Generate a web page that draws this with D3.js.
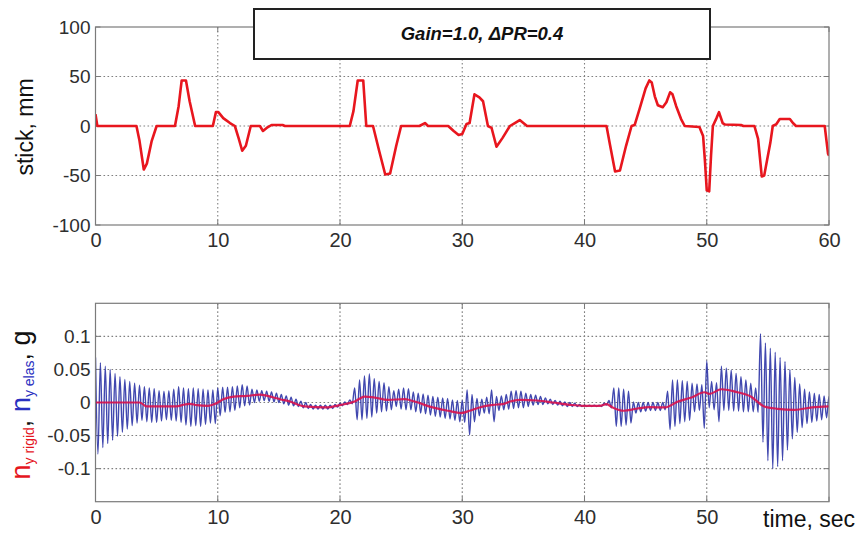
<!DOCTYPE html>
<html><head><meta charset="utf-8">
<script src="https://cdn.jsdelivr.net/npm/d3@7"></script>
<style>
html,body{margin:0;padding:0;background:#fff;}
svg{display:block;font-family:"Liberation Sans",Arial,Helvetica,sans-serif;}
</style></head>
<body>
<svg id="chart" width="861" height="534"></svg>
<script>
// ---------------- DATA ----------------
const titleText = "Gain=1.0, \u0394PR=0.4";
const xTicks = [0, 10, 20, 30, 40, 50, 60];
const xTickLabelsBottom = [0, 10, 20, 30, 40, 50];
const stickTicks = [-100, -50, 0, 50, 100];
const accelTicks = [-0.1, -0.05, 0, 0.05, 0.1];

// stick deflection, mm (time, value)
const stickTime = [0,0.15,3.35,3.6,3.95,4.2,4.6,5.0,6.5,6.8,7.05,7.4,7.7,8.15,9.6,9.85,10.05,10.45,11.0,11.4,11.7,12.0,12.3,12.7,13.45,13.7,14.0,14.4,15.3,15.5,20.8,21.1,21.45,21.9,22.15,22.7,23.2,23.7,24.1,24.6,25.0,26.5,26.95,27.2,28.85,29.3,29.7,30.0,30.35,30.6,31.0,31.4,31.7,32.1,32.4,32.8,33.3,33.9,34.3,34.7,35.1,35.3,41.8,42.1,42.5,42.9,43.4,43.85,44.1,44.5,45.0,45.3,45.5,45.75,46.0,46.4,46.7,47.0,47.2,47.5,47.9,48.2,49.4,49.7,49.85,50.0,50.2,50.35,50.5,50.8,51.0,51.3,51.5,52.8,53.0,53.9,54.2,54.5,54.7,55.2,55.4,55.7,55.97,56.8,57.05,57.3,59.65,59.92,60];
const stickVal  = [12,0,0,-15,-44,-38,-15,0,0,20,46,46,25,0,0,14,14,8,3,0,-12,-25,-20,0,0,-5,-2,1,1,0,0,15,46,46,0,0,-25,-49,-48,-20,0,0,3,0,0,-5,-9,-8,2,3,32,29,25,0,-2,-21,-12,0,3,6,2,0,0,-20,-46,-45,-20,0,1,17,38,46,44,30,21,19,24,34,32,20,7,0,-1,-10,-35,-65,-66,-30,0,8,14,3,1.5,1,0,0,-13,-51,-50,-17,0,2,7,7,3,0,0,-28,-30];

// rigid-body lateral load factor, milli-g
const rigidTime = [0,3.6,4.2,6.6,7.3,7.7,8.3,9.2,9.8,10.45,11.3,12.4,13.45,14.5,15.1,15.8,17.1,18.8,20.1,21.2,22.0,22.85,23.9,25.3,26.1,27.5,28.85,29.9,30.6,31.4,32.5,33.3,33.9,34.7,36.1,37.4,38.8,39.9,41.25,41.8,42.3,43.2,44.25,45.3,46.6,47.65,48.75,49.8,50.2,51.2,52.3,53.6,54.7,55.8,57.2,58.6,60];
const rigidVal  = [0,0,-6,-6,-3,-2,-4,-5,-2,5,9,10,12,8,5,2,-6,-7.5,-3.5,1.5,9,7.5,4,5,1.5,-7,-12.5,-16,-12.5,-7.5,-3.5,-2.5,1.5,4,3,0,-3.5,-5,-5,-2.5,-7.5,-12.5,-9.5,-7,-7.5,1.5,7.5,15.5,13,20,16.5,9,-6,-9.5,-11,-7.5,-6];

// elastic lateral load factor: oscillation peaks every 0.4 s, milli-g
const elasStep = 0.4;
const elasHi = [68,60,55,50,44,39,35,32,29,26,24,22,21,18,17,18,20,24,22,21,22,21,20,19,19,22,23,23,24,25,27,25,20,19,18,17,16,14,12,10,8,5,2,0,-3,-4,-4,-4,-4,-3,-1,1,4,22,34,40,43,36,32,30,24,18,20,22,21,16,14,13,11,9,8,7,6,4,3,3,19,12,6,5,8,19,9,10,12,17,18,17,14,12,11,9,7,5,3,2,1,0,-1,-3,-4,-4,-4,-4,-1,3,22,22,20,17,1,0,0,0,0,0,0,17,34,34,33,32,29,28,27,63,32,30,55,52,49,44,39,34,29,22,104,90,82,76,68,62,50,38,28,20,16,14,12,10,9];
const elasLo = [-78,-68,-62,-57,-51,-45,-40,-35,-31,-27,-29,-30,-30,-28,-26,-27,-28,-30,-34,-36,-35,-36,-33,-31,-32,-20,-15,-14,-12,-8,-5,-4,0,2,3,2,1,0,-2,-4,-5,-6,-8,-9,-10,-10,-10,-10,-9,-7,-5,-3,-2,-26,-26,-24,-22,-16,-14,-13,-11,-6,-10,-11,-11,-14,-16,-17,-19,-21,-22,-24,-25,-27,-29,-30,-49,-29,-20,-16,-17,-29,-12,-11,-10,-9,-8,-8,-6,-4,-3,-3,-2,-3,-4,-5,-6,-6,-6,-6,-6,-6,-6,-6,-4,-8,-36,-36,-34,-31,-16,-14,-13,-12,-12,-12,-11,-41,-36,-32,-29,-27,-14,-12,-39,-8,-11,-29,-12,-12,-13,-13,-14,-14,-14,-15,-60,-88,-100,-97,-88,-72,-55,-45,-38,-32,-30,-28,-26,-23,-21];

// ---------------- LAYOUT ----------------
const svg = d3.select("#chart");
const L = 95.5, R = 829;
const top1 = 27, bot1 = 225;
const top2 = 303.3, bot2 = 501.7;
const x1 = d3.scaleLinear().domain([0, 60]).range([L, R]);
const y1 = d3.scaleLinear().domain([-100, 100]).range([bot1, top1]);
const y2 = d3.scaleLinear().domain([-0.15, 0.15]).range([bot2, top2]);

const gridColor = "#808080", frameColor = "#7b7b7b", tickTxt = "#2e2e2e";
const tickFont = 19;

function panel(yScale, yTicks, yFmt, top, bot, xLabelTicks) {
  const g = svg.append("g");
  // grid
  g.append("g").selectAll("line").data(xTicks.slice(1, -1)).join("line")
    .attr("x1", d => x1(d)).attr("x2", d => x1(d)).attr("y1", top).attr("y2", bot)
    .attr("stroke", gridColor).attr("stroke-width", 1.1).attr("stroke-dasharray", "1.6,2.4");
  g.append("g").selectAll("line").data(yTicks.filter(d => yScale(d) > top + 1 && yScale(d) < bot - 1)).join("line")
    .attr("x1", L).attr("x2", R).attr("y1", d => yScale(d)).attr("y2", d => yScale(d))
    .attr("stroke", gridColor).attr("stroke-width", 1.1).attr("stroke-dasharray", "1.6,2.4");
  // axes labels
  const ax = d3.axisLeft(yScale).tickValues(yTicks).tickSize(0).tickPadding(5).tickFormat(yFmt);
  const ga = g.append("g").attr("transform", `translate(${L},0)`).call(ax);
  ga.select(".domain").remove();
  ga.selectAll("text").attr("font-size", tickFont).attr("fill", tickTxt).attr("font-family", "Liberation Sans, Arial, sans-serif");
  const bx = d3.axisBottom(x1).tickValues(xLabelTicks).tickSize(0).tickPadding(8).tickFormat(d3.format("d"));
  const gb = g.append("g").attr("transform", `translate(0,${bot})`).call(bx);
  gb.select(".domain").remove();
  gb.selectAll("text").attr("font-size", tickFont + 1).attr("fill", tickTxt).attr("font-family", "Liberation Sans, Arial, sans-serif");
  // small inward ticks
  const tk = g.append("g").attr("stroke", frameColor).attr("stroke-width", 1);
  xTicks.forEach(d => {
    tk.append("line").attr("x1", x1(d)).attr("x2", x1(d)).attr("y1", bot).attr("y2", bot - 5);
    tk.append("line").attr("x1", x1(d)).attr("x2", x1(d)).attr("y1", top).attr("y2", top + 5);
  });
  yTicks.forEach(d => {
    tk.append("line").attr("x1", L).attr("x2", L + 5).attr("y1", yScale(d)).attr("y2", yScale(d));
    tk.append("line").attr("x1", R).attr("x2", R - 5).attr("y1", yScale(d)).attr("y2", yScale(d));
  });
  return g;
}

const fmtStick = d => String(d);
const fmtAcc = d => (d === 0 ? "0" : String(d));

panel(y1, stickTicks, fmtStick, top1, bot1, xTicks);
panel(y2, accelTicks, fmtAcc, top2, bot2, xTickLabelsBottom);

// clip paths
const defs = svg.append("defs");
defs.append("clipPath").attr("id", "c1").append("rect").attr("x", L).attr("y", top1).attr("width", R - L).attr("height", bot1 - top1);
defs.append("clipPath").attr("id", "c2").append("rect").attr("x", L).attr("y", top2).attr("width", R - L).attr("height", bot2 - top2);

// stick line
const stickData = stickTime.map((t, i) => [t, stickVal[i]]);
svg.append("path").datum(stickData).attr("clip-path", "url(#c1)")
  .attr("fill", "none").attr("stroke", "#e8161e").attr("stroke-width", 2.6).attr("stroke-linejoin", "round")
  .attr("d", d3.line().x(d => x1(d[0])).y(d => y1(d[1])));

// elastic oscillation
const elasData = [];
elasHi.forEach((h, k) => {
  elasData.push([k * elasStep, h / 1000]);
  elasData.push([k * elasStep + elasStep / 2, elasLo[k] / 1000]);
});
svg.append("path").datum(elasData).attr("clip-path", "url(#c2)")
  .attr("fill", "none").attr("stroke", "#2c34a6").attr("stroke-width", 1.4).attr("stroke-opacity", 0.9)
  .attr("d", d3.line().curve(d3.curveMonotoneX).x(d => x1(d[0])).y(d => y2(d[1])));

// rigid line
const rigidData = rigidTime.map((t, i) => [t, rigidVal[i] / 1000]);
svg.append("path").datum(rigidData).attr("clip-path", "url(#c2)")
  .attr("fill", "none").attr("stroke", "#d8124e").attr("stroke-width", 2.2).attr("stroke-opacity", 0.9)
  .attr("d", d3.line().curve(d3.curveMonotoneX).x(d => x1(d[0])).y(d => y2(d[1])));

// frames
[[top1, bot1], [top2, bot2]].forEach(([t, b]) => {
  svg.append("rect").attr("x", L).attr("y", t).attr("width", R - L).attr("height", b - t)
    .attr("fill", "none").attr("stroke", frameColor).attr("stroke-width", 1.2);
});

// title box
svg.append("rect").attr("x", 254).attr("y", 9).attr("width", 456).attr("height", 50)
  .attr("fill", "#fff").attr("stroke", "#222").attr("stroke-width", 2);
svg.append("text").attr("x", 482).attr("y", 40).attr("text-anchor", "middle")
  .attr("font-size", 18.5).attr("font-weight", "bold").attr("font-style", "italic").attr("fill", "#111")
  .text(titleText);

// y label top
svg.append("text").attr("transform", "translate(33,127) rotate(-90)").attr("text-anchor", "middle")
  .attr("font-size", 23).attr("fill", "#111").text("stick, mm");

// y label bottom
const yl = svg.append("text").attr("transform", "translate(30,405) rotate(-90)").attr("text-anchor", "middle")
  .attr("font-size", 27).attr("fill", "#111");
yl.append("tspan").attr("fill", "#e5161e").text("n");
yl.append("tspan").attr("fill", "#e5161e").attr("font-size", 14).attr("dy", 4).text("y rigid");
yl.append("tspan").attr("dy", -4).text(", ");
yl.append("tspan").attr("fill", "#2a30c0").text("n");
yl.append("tspan").attr("fill", "#2a30c0").attr("font-size", 14).attr("dy", 4).text("y elas");
yl.append("tspan").attr("dy", -4).text(", g");

// x label
svg.append("text").attr("x", 763).attr("y", 527).attr("font-size", 23).attr("fill", "#111").text("time, sec");
</script>
</body></html>
